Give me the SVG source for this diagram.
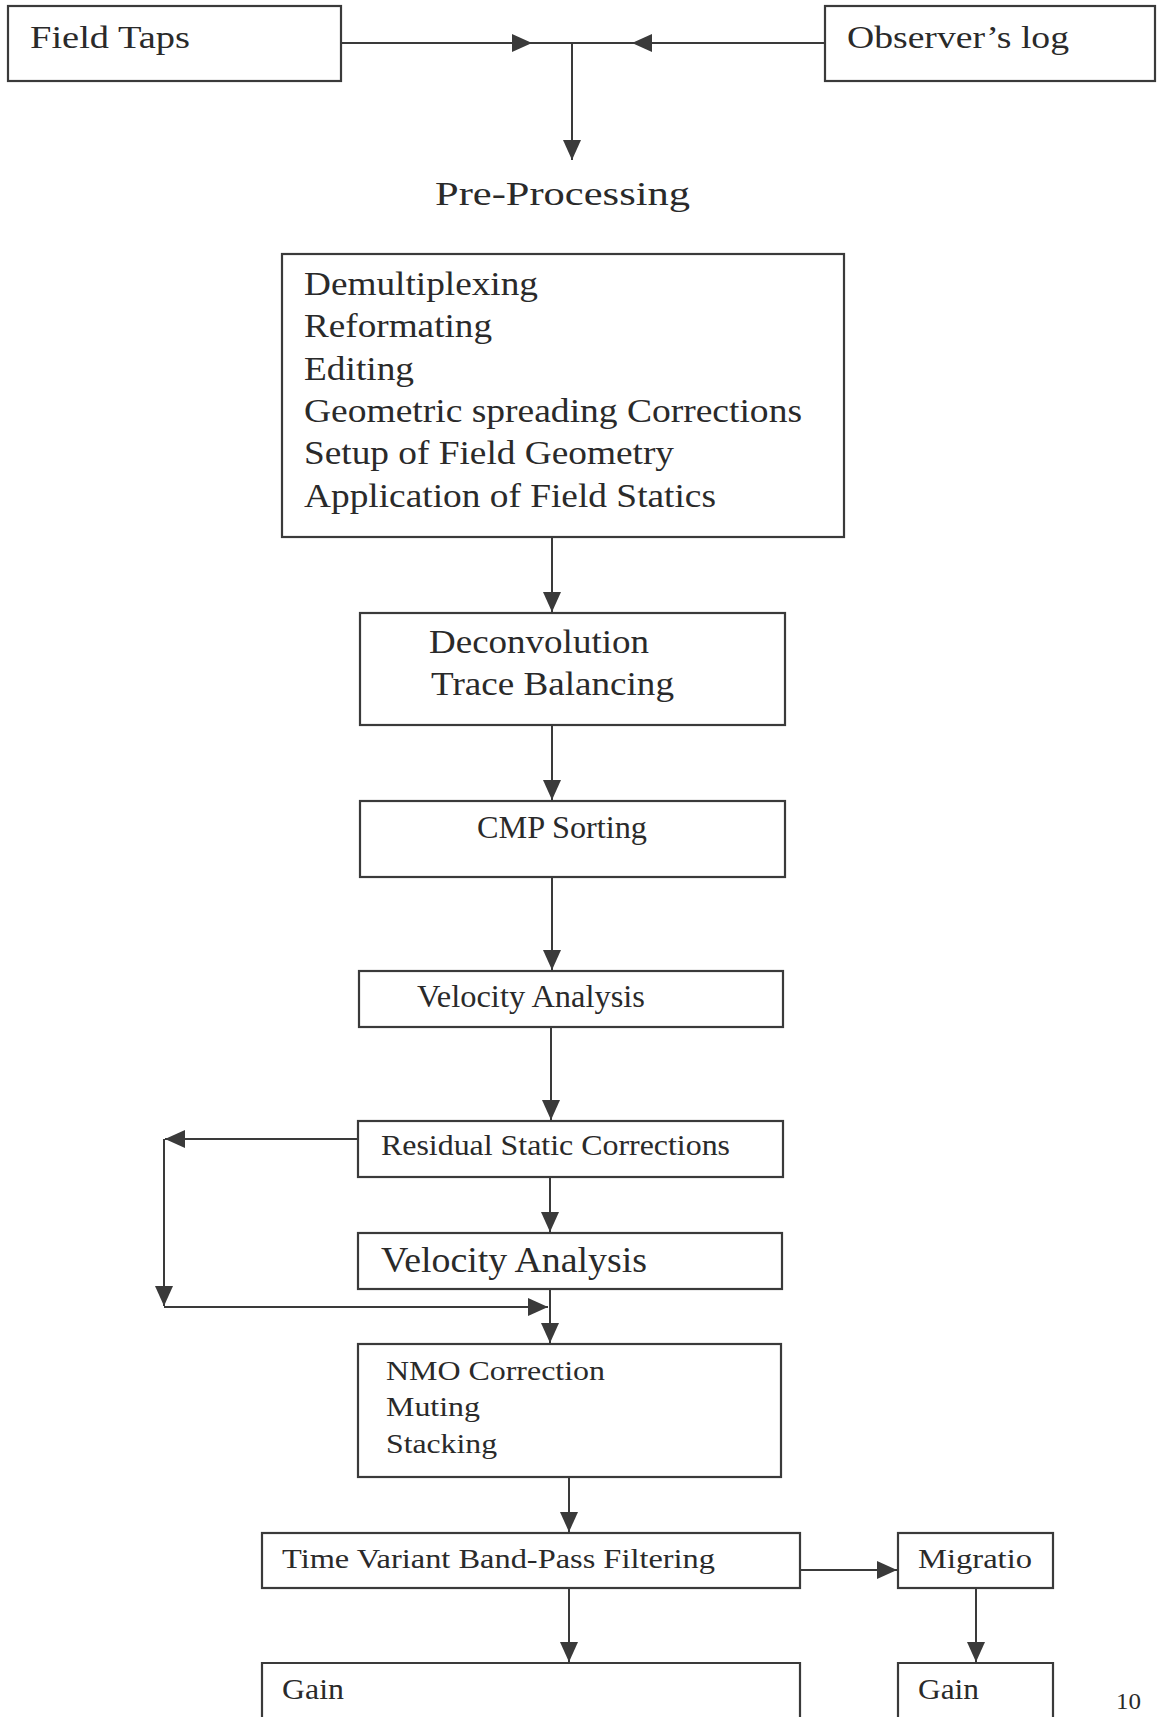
<svg xmlns="http://www.w3.org/2000/svg" width="1157" height="1717" viewBox="0 0 1157 1717">
<style>
.box{fill:none;stroke:#3a3a3a;stroke-width:2.2}
.ln{fill:none;stroke:#3a3a3a;stroke-width:2}
.t{font-family:"Liberation Serif","Times New Roman",serif;fill:#2a2a2a}
</style>
<defs>
<marker id="ah" viewBox="0 0 20 18" refX="20" refY="9" markerWidth="20" markerHeight="18" markerUnits="userSpaceOnUse" orient="auto">
<path d="M0,0 L20,9 L0,18 z" fill="#3a3a3a"/>
</marker>
</defs>
<rect width="1157" height="1717" fill="#ffffff"/>

<g id="connectors">
<path class="ln" d="M341 43 H532" marker-end="url(#ah)"/>
<path class="ln" d="M825 43 H632" marker-end="url(#ah)"/>
<path class="ln" d="M532 43 H632"/>
<path class="ln" d="M572 43 V160" marker-end="url(#ah)"/>
<path class="ln" d="M552 537 V612" marker-end="url(#ah)"/>
<path class="ln" d="M552 725 V800" marker-end="url(#ah)"/>
<path class="ln" d="M552 877 V970" marker-end="url(#ah)"/>
<path class="ln" d="M551 1027 V1120" marker-end="url(#ah)"/>
<path class="ln" d="M550 1177 V1232" marker-end="url(#ah)"/>
<path class="ln" d="M550 1289 V1343" marker-end="url(#ah)"/>
<path class="ln" d="M358 1139 H165" marker-end="url(#ah)"/>
<path class="ln" d="M164 1139 V1306" marker-end="url(#ah)"/>
<path class="ln" d="M164 1307 H548" marker-end="url(#ah)"/>
<path class="ln" d="M569 1477 V1532" marker-end="url(#ah)"/>
<path class="ln" d="M800 1570 H897" marker-end="url(#ah)"/>
<path class="ln" d="M569 1588 V1662" marker-end="url(#ah)"/>
<path class="ln" d="M976 1588 V1662" marker-end="url(#ah)"/>
</g>

<g id="field-taps">
<rect class="box" x="8" y="6" width="333" height="75"/>
<text class="t" x="30" y="48" font-size="32" textLength="160" lengthAdjust="spacingAndGlyphs">Field Taps</text>
</g>
<g id="observers-log">
<rect class="box" x="825" y="6" width="330" height="75"/>
<text class="t" x="847" y="48" font-size="32" textLength="222" lengthAdjust="spacingAndGlyphs">Observer’s log</text>
</g>
<g id="pre-processing-label">
<text class="t" x="435" y="205" font-size="34" textLength="255" lengthAdjust="spacingAndGlyphs">Pre-Processing</text>
</g>
<g id="pre-processing">
<rect class="box" x="282" y="254" width="562" height="283"/>
<text class="t" x="304" y="295" font-size="33" textLength="234" lengthAdjust="spacingAndGlyphs">Demultiplexing</text>
<text class="t" x="304" y="337" font-size="33" textLength="188" lengthAdjust="spacingAndGlyphs">Reformating</text>
<text class="t" x="304" y="380" font-size="33" textLength="110" lengthAdjust="spacingAndGlyphs">Editing</text>
<text class="t" x="304" y="422" font-size="33" textLength="498" lengthAdjust="spacingAndGlyphs">Geometric spreading Corrections</text>
<text class="t" x="304" y="464" font-size="33" textLength="370" lengthAdjust="spacingAndGlyphs">Setup of Field Geometry</text>
<text class="t" x="304" y="507" font-size="33" textLength="412" lengthAdjust="spacingAndGlyphs">Application of Field Statics</text>
</g>
<g id="deconvolution">
<rect class="box" x="360" y="613" width="425" height="112"/>
<text class="t" x="429" y="653" font-size="34" textLength="220" lengthAdjust="spacingAndGlyphs">Deconvolution</text>
<text class="t" x="431" y="695" font-size="34" textLength="243" lengthAdjust="spacingAndGlyphs">Trace Balancing</text>
</g>
<g id="cmp-sorting">
<rect class="box" x="360" y="801" width="425" height="76"/>
<text class="t" x="477" y="838" font-size="31" textLength="170" lengthAdjust="spacingAndGlyphs">CMP Sorting</text>
</g>
<g id="velocity-analysis-1">
<rect class="box" x="359" y="971" width="424" height="56"/>
<text class="t" x="417" y="1007" font-size="32" textLength="228" lengthAdjust="spacingAndGlyphs">Velocity Analysis</text>
</g>
<g id="residual-static">
<rect class="box" x="358" y="1121" width="425" height="56"/>
<text class="t" x="381" y="1155" font-size="30" textLength="349" lengthAdjust="spacingAndGlyphs">Residual Static Corrections</text>
</g>
<g id="velocity-analysis-2">
<rect class="box" x="358" y="1233" width="424" height="56"/>
<text class="t" x="381" y="1272" font-size="35" textLength="266" lengthAdjust="spacingAndGlyphs">Velocity Analysis</text>
</g>
<g id="nmo">
<rect class="box" x="358" y="1344" width="423" height="133"/>
<text class="t" x="386" y="1380" font-size="28" textLength="219" lengthAdjust="spacingAndGlyphs">NMO Correction</text>
<text class="t" x="386" y="1416" font-size="28" textLength="94" lengthAdjust="spacingAndGlyphs">Muting</text>
<text class="t" x="386" y="1453" font-size="28" textLength="111" lengthAdjust="spacingAndGlyphs">Stacking</text>
</g>
<g id="band-pass">
<rect class="box" x="262" y="1533" width="538" height="55"/>
<text class="t" x="282" y="1568" font-size="28" textLength="433" lengthAdjust="spacingAndGlyphs">Time Variant Band-Pass Filtering</text>
</g>
<g id="migration">
<rect class="box" x="898" y="1533" width="155" height="55"/>
<text class="t" x="918" y="1568" font-size="28" textLength="114" lengthAdjust="spacingAndGlyphs">Migratio</text>
</g>
<g id="gain-left">
<path class="box" d="M262 1725 V1663 H800 V1725"/>
<text class="t" x="282" y="1699" font-size="30" textLength="62" lengthAdjust="spacingAndGlyphs">Gain</text>
</g>
<g id="gain-right">
<path class="box" d="M898 1725 V1663 H1053 V1725"/>
<text class="t" x="918" y="1699" font-size="30" textLength="61" lengthAdjust="spacingAndGlyphs">Gain</text>
</g>
<text class="t" x="1116" y="1709" font-size="24" textLength="25" lengthAdjust="spacingAndGlyphs">10</text>
</svg>
